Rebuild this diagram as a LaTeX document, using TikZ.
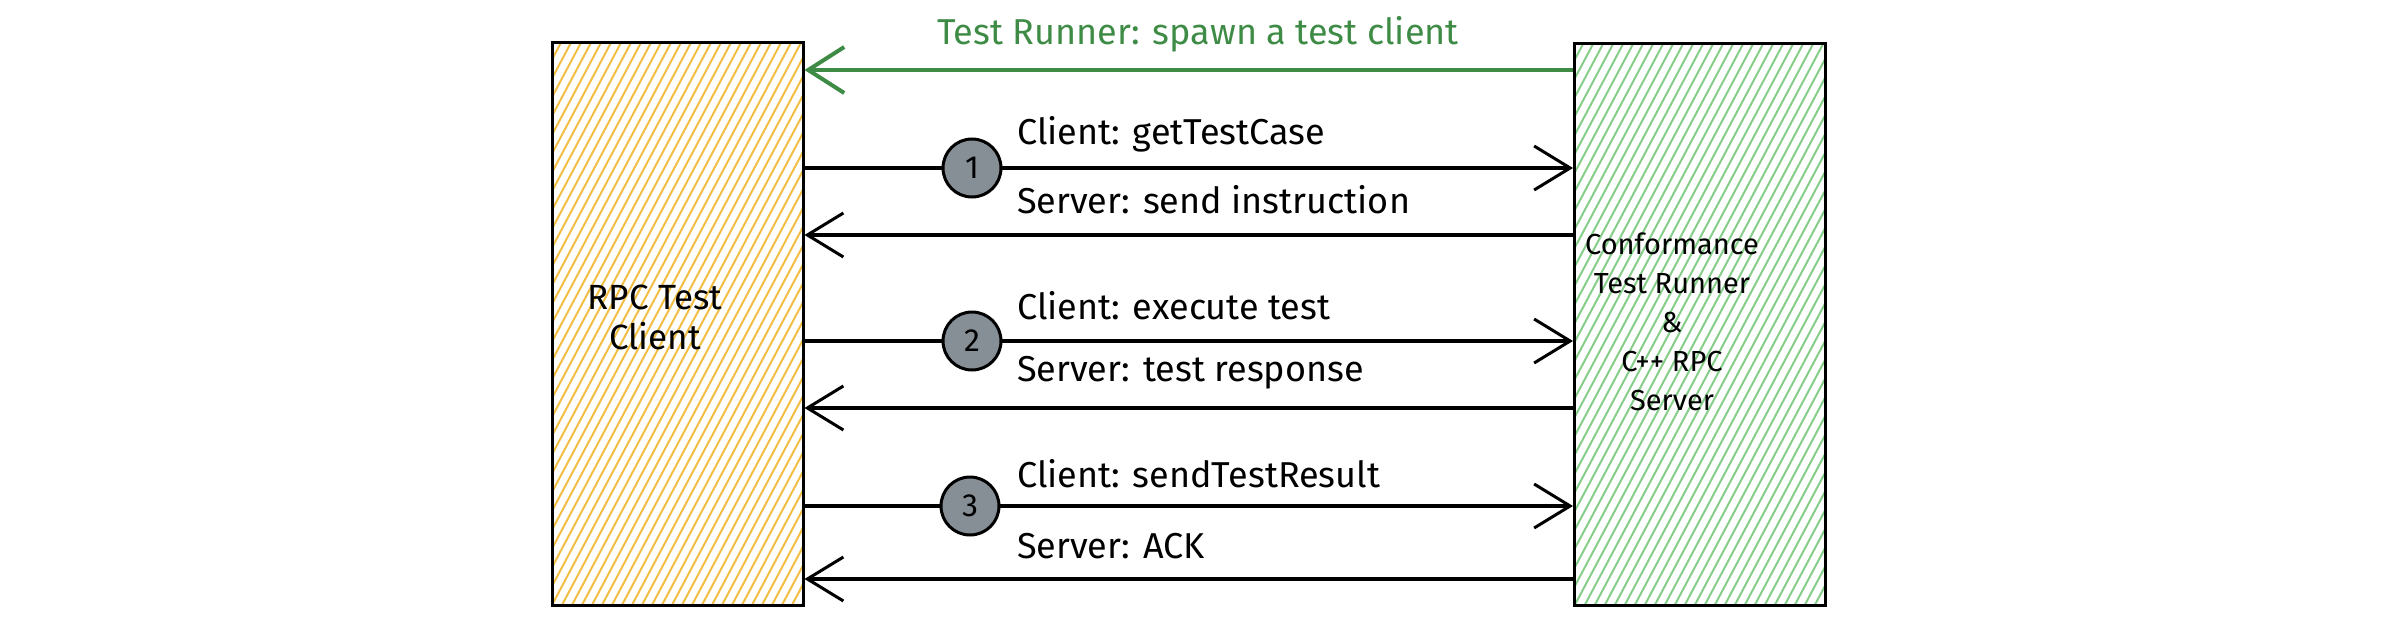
\documentclass[tikz,border=0pt]{standalone}
\usepackage{fontspec}
\setmainfont{Fira Sans}
\usetikzlibrary{arrows.meta}
\definecolor{hatchY}{HTML}{F2BE45}
\definecolor{hatchG}{HTML}{86CE8A}
\definecolor{spawnG}{HTML}{3E8B46}
\definecolor{stepgray}{HTML}{868E96}
\tikzset{
  txt/.style={font=\fontsize{36}{42}\selectfont, inner sep=0pt},
  lbl/.style={txt, anchor=west},
  party/.style={draw=black, line width=3pt, minimum width=251pt, minimum height=562pt, inner sep=0pt},
  hatch/.style={path picture={
      \foreach \i in {-40,...,28}
        \draw[#1, line width=2pt]
          ([xshift=\i*10pt]path picture bounding box.south west) -- ++(62:720pt);
    }},
  msg/.style={draw=black, line width=3.5pt, -{Straight Barb[length=36pt,width=44pt,line width=3pt]}},
  spawn/.style={draw=spawnG, line width=4.5pt, -{Straight Barb[length=36pt,width=46pt,line width=4pt]}},
  stepnum/.style={circle, draw=black, line width=3pt, fill=stepgray, minimum size=58pt, inner sep=0pt, font=\fontsize{32}{38}\selectfont}
}
\begin{document}
\begin{tikzpicture}[x=1pt,y=-1pt]
\useasboundingbox (0,0) rectangle (2390,626);
% parties
\node[party, hatch=hatchY] (lc) at (677.5,324) {};
\node[party, hatch=hatchG] (rc) at (1700,324.5) {};
\node[txt, align=center, font=\fontsize{35}{40}\selectfont] (lct) at (655,317) {RPC Test\\Client};
\node[txt, align=center, font=\fontsize{29}{39}\selectfont] (rct) at (1672,322) {Conformance\\Test Runner\\\&\\C++ RPC\\Server};
% spawn
\coordinate (sp) at (0,70);
\draw[spawn] (rc.west |- sp) -- (lc.east |- sp);
\node[txt, text=spawnG] (spl) at (1198,34) {Test Runner: spawn a test client};
% step centres and return levels
\coordinate (c1) at (972,168);
\coordinate (c2) at (972,341);
\coordinate (c3) at (970,506);
\coordinate (r1) at (0,235);
\coordinate (r2) at (0,408);
\coordinate (r3) at (0,579);
% messages
\draw[msg] (lc.east |- c1) -- (rc.west |- c1);
\draw[msg] (rc.west |- r1) -- (lc.east |- r1);
\draw[msg] (lc.east |- c2) -- (rc.west |- c2);
\draw[msg] (rc.west |- r2) -- (lc.east |- r2);
\draw[msg] (lc.east |- c3) -- (rc.west |- c3);
\draw[msg] (rc.west |- r3) -- (lc.east |- r3);
% step circles
\node[stepnum] (s1) at (c1) {1};
\node[stepnum] (s2) at (c2) {2};
\node[stepnum] (s3) at (c3) {3};
% labels
\node[lbl] (m1) at (1017,134) {Client: getTestCase};
\node[lbl] (m2) at (1017,200) {Server: send instruction};
\node[lbl] (m3) at (1017,306) {Client: execute test};
\node[lbl] (m4) at (1017,373) {Server: test response};
\node[lbl] (m5) at (1017,474) {Client: sendTestResult};
\node[lbl] (m6) at (1017,546) {Server: ACK};
\end{tikzpicture}
\end{document}
